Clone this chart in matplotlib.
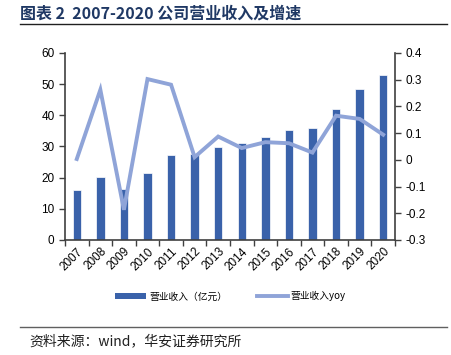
import matplotlib
matplotlib.use("Agg")
import matplotlib.pyplot as plt
import numpy as np
from matplotlib.lines import Line2D
from matplotlib.patches import Patch

plt.rcParams['font.family'] = ['Noto Sans CJK SC', 'DejaVu Sans']

years = ['2007', '2008', '2009', '2010', '2011', '2012', '2013', '2014',
         '2015', '2016', '2017', '2018', '2019', '2020']
revenue = [16.0, 20.3, 16.3, 21.5, 27.4, 27.5, 29.9, 31.0, 33.0, 35.2, 36.0, 41.9, 48.3, 52.9]
yoy = [0.003, 0.262, -0.187, 0.302, 0.281, 0.01, 0.087, 0.044, 0.066, 0.062, 0.027, 0.165, 0.153, 0.094]
left_ticks = [0, 10, 20, 30, 40, 50, 60]
right_ticks = [-0.3, -0.2, -0.1, 0, 0.1, 0.2, 0.3, 0.4]
right_labels = ['-0.3', '-0.2', '-0.1', '0', '0.1', '0.2', '0.3', '0.4']

bar_color = '#3A62AA'
line_color = '#8FA4D8'
axis_color = '#404040'

fig = plt.figure(figsize=(4.52, 3.55), dpi=100)
ax = fig.add_axes([0.1438, 0.324, 0.730, 0.527])
x = np.arange(len(years))
ax.bar(x, revenue, width=0.36, color=bar_color, edgecolor='white', linewidth=0.5, zorder=2)
ax.set_xlim(-0.5, len(years) - 0.5)
ax.set_ylim(0, 60)
ax.set_yticks(left_ticks)
ax.set_yticklabels([str(t) for t in left_ticks], fontsize=8.5, family='Liberation Sans')
ax.set_xticks(np.arange(-0.5, len(years), 1.0))
ax.set_xticklabels([])
ax.set_xticks(x, minor=True)
ax.set_xticklabels(years, minor=True, rotation=45, ha='right', rotation_mode='anchor',
                   fontsize=8.5, family='Liberation Sans')
ax.tick_params(axis='x', which='minor', length=0, pad=4)
ax.tick_params(axis='x', which='major', length=4, direction='out', color=axis_color, width=1)
ax.tick_params(axis='y', length=4, direction='out', color=axis_color, width=1)
ax.spines['top'].set_visible(False)
ax.spines['right'].set_visible(False)
for s in ['left', 'bottom']:
    ax.spines[s].set_color(axis_color)
    ax.spines[s].set_linewidth(1.2)

ax2 = ax.twinx()
ax2.plot(x, yoy, color=line_color, linewidth=2.8, zorder=3, solid_joinstyle='miter')
ax2.set_ylim(-0.3, 0.4)
ax2.set_yticks(right_ticks)
ax2.set_yticklabels(right_labels, fontsize=8.5, family='Liberation Sans')
ax2.tick_params(axis='y', length=4, direction='out', color=axis_color, width=1)
for s in ['top', 'left', 'bottom']:
    ax2.spines[s].set_visible(False)
ax2.spines['right'].set_color(axis_color)
ax2.spines['right'].set_linewidth(1.2)

handles = [Patch(facecolor=bar_color, edgecolor='none'),
           Line2D([0], [0], color=line_color, linewidth=2.8)]
fig.legend(handles, ['营业收入（亿元）', '营业收入yoy'], loc='center',
           bbox_to_anchor=(0.51, 0.165), ncol=2, frameon=False, fontsize=7,
           handlelength=3.2, handleheight=0.5, columnspacing=3.0, handletextpad=0.3)

fig.text(0.045, 0.962, '图表 2  2007-2020 公司营业收入及增速', fontsize=11.5,
         fontweight='bold', color='#1F3864', va='center', ha='left')
fig.add_artist(Line2D([0.044, 0.99], [0.932, 0.932], color='#202020', linewidth=1.0))
fig.add_artist(Line2D([0.044, 0.99], [0.078, 0.078], color='#606060', linewidth=1.0))
fig.text(0.066, 0.040, '资料来源：wind，华安证券研究所', fontsize=10, color='#202020',
         va='center', ha='left')

fig.savefig('out.png', dpi=100)
